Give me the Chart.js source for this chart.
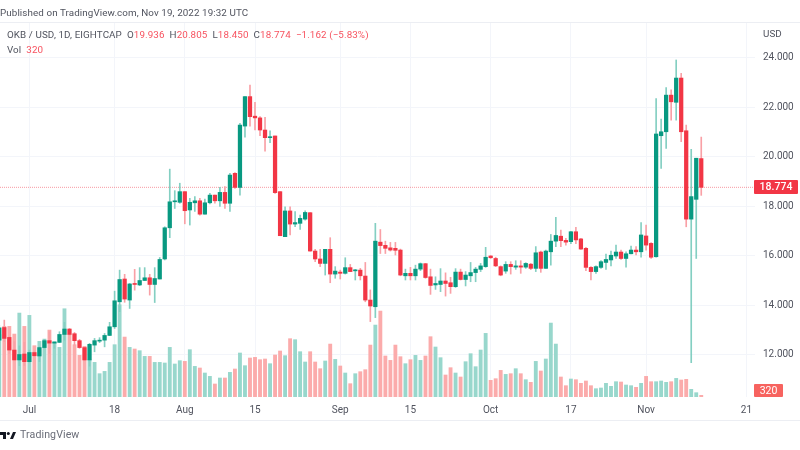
<!DOCTYPE html>
<html>
<head>
<meta charset="utf-8">
<script src="https://cdn.jsdelivr.net/npm/chart.js@4"></script>
<style>
body { margin: 0; background: #fff; width: 800px; height: 450px; overflow: hidden; font-family: Roboto, sans-serif; }
canvas { position: absolute; left: 0; top: 0; filter: blur(0.35px); }
.t { position: absolute; white-space: nowrap; font-size: 9.8px; line-height: 14px; color: #50535e; letter-spacing: 0.1px; }
.r { color: #f7525f; }
.tag { position: absolute; left: 754px; color: #fff; font-size: 10.5px; text-align: center; border-radius: 1px; }
.rule { position: absolute; left: 0; width: 800px; height: 1px; background: #eceef3; }
</style>
</head>
<body>
<canvas id="myChart" width="800" height="450"></canvas>
<div class="rule" style="top:22px"></div>
<div class="rule" style="top:420px"></div>
<div class="t" style="left:0;top:6px">Published on TradingView.com, Nov 19, 2022 19:32 UTC</div>
<div class="t" style="left:7px;top:28px">OKB / USD, 1D, EIGHTCAP &nbsp;O<span class="r">19.936</span> &nbsp;H<span class="r">20.805</span> &nbsp;L<span class="r">18.450</span> &nbsp;C<span class="r">18.774</span> &nbsp;<span class="r">−1.162 (−5.83%)</span></div>
<div class="t" style="left:7px;top:43px">Vol &nbsp;<span class="r">320</span></div>
<div class="t" style="left:763px;top:27px">USD</div>
<div class="tag" id="lastTag" style="width:44px;height:14px;line-height:14px;background:#f23645;font-weight:500">18.774</div>
<div class="tag" id="volTag" style="width:29px;height:13px;line-height:13px;background:#f7635f">320</div>
<svg style="position:absolute;left:0;top:431px" width="17" height="9" viewBox="0 0 17 9">
  <path d="M0 1h6v7H3V4H0z M10 8l3-7h3l-3 7z" fill="#131722"/><circle cx="8.3" cy="2.5" r="1.5" fill="#131722"/>
</svg>
<div class="t" style="left:20px;top:428px;font-size:10.6px;color:#6a6d78">TradingView</div>
<script>
// OKB / USD daily, first entry is the bar cut off by the left edge
const opens = [12.6,13.11,12.71,12.2,11.8,12.04,11.73,12.1,11.96,12.3,12.58,12.48,12.51,12.83,13.05,12.86,12.58,12.3,11.8,12.4,12.56,12.6,12.79,13.14,14.15,15.07,14.22,14.88,14.83,15.01,15.12,14.85,15.07,15.88,17.14,18.19,18.17,18.6,17.86,18.15,18.23,17.69,18.15,18.46,18.23,18.57,18.13,19.34,18.77,21.25,22.44,21.65,21.58,21.09,20.78,20.85,18.6,16.78,17.82,17.29,17.32,17.49,17.75,16.2,15.88,15.7,16.27,15.27,15.35,15.3,15.53,15.4,15.43,15.19,14.22,13.95,16.56,16.43,16.33,16.31,16.24,15.2,15.3,15.2,15.47,15.69,15.16,14.83,14.85,14.99,14.92,14.76,15.35,15.05,15.2,15.33,15.46,15.57,16.0,15.9,15.57,15.39,15.66,15.55,15.6,15.55,15.67,15.5,16.16,15.5,16.17,16.6,16.8,16.63,16.58,16.98,16.69,16.31,15.54,15.37,15.54,15.74,15.84,16.0,16.16,15.9,16.09,16.24,16.17,16.81,16.51,15.97,20.86,21.02,22.5,22.21,23.19,21.06,17.49,18.29,19.936];
const highs = [13.2,13.41,12.74,12.54,12.37,12.51,12.2,12.13,12.33,12.63,12.94,12.52,12.94,13.32,13.07,12.91,12.63,12.3,12.47,12.67,12.7,12.87,13.32,14.58,15.43,15.26,14.89,15.46,15.53,15.53,15.26,15.53,15.94,17.18,19.51,18.64,18.94,18.6,18.33,18.4,18.33,18.3,18.53,18.46,18.77,18.8,19.34,19.37,21.36,22.44,22.91,22.21,21.63,21.6,21.06,20.85,18.6,17.99,17.99,17.79,17.65,17.82,17.75,16.27,16.27,16.27,16.74,15.57,15.43,15.93,15.66,15.46,15.5,15.74,14.63,17.32,17.07,16.6,16.55,16.55,16.28,15.47,15.54,15.63,15.72,15.7,15.47,15.16,15.49,15.32,15.14,15.49,15.47,15.37,15.74,15.54,15.7,16.35,16.02,15.95,15.6,15.77,15.77,15.81,15.81,15.73,15.7,16.38,16.2,16.24,16.87,17.56,17.05,16.71,17.0,17.16,16.71,16.35,15.57,15.6,15.81,16.08,16.2,16.44,16.24,16.17,16.4,16.38,17.35,17.25,16.54,22.36,21.53,22.8,22.71,23.92,23.38,21.29,20.31,19.95,20.805];
const lows = [12.5,12.54,12.06,11.8,11.57,11.57,11.7,11.93,11.73,12.27,12.06,12.27,12.5,12.6,12.8,12.4,12.27,11.77,11.55,12.13,12.5,12.33,12.78,13.07,13.75,14.13,13.88,14.62,14.8,15.01,14.42,14.12,15.07,15.84,16.74,17.92,18.13,17.3,17.25,17.8,17.65,17.69,18.1,18.13,18.0,17.92,17.8,18.73,18.46,20.8,21.25,21.09,20.86,20.24,20.58,18.53,16.82,16.78,16.85,17.18,17.07,17.45,16.2,15.77,15.57,15.23,14.92,15.1,15.07,15.27,15.37,15.03,15.03,14.15,13.35,13.51,16.1,16.1,16.2,16.04,15.2,15.03,15.03,15.03,15.41,15.1,14.45,14.65,14.56,14.38,14.49,14.73,15.03,14.79,14.96,14.96,15.37,15.54,15.9,15.57,15.2,15.3,15.27,15.46,15.3,15.5,15.45,15.37,15.34,15.5,15.63,16.38,16.38,16.44,16.5,16.5,16.27,15.41,15.03,15.3,15.5,15.46,15.6,15.9,15.86,15.55,16.08,16.04,15.95,16.24,15.9,15.95,19.54,20.35,21.49,21.49,20.62,17.18,11.69,15.9,18.45];
const closes = [13.1,12.67,12.2,11.8,12.02,11.73,12.1,11.97,12.3,12.58,12.48,12.51,12.83,13.05,12.83,12.58,12.3,11.8,12.43,12.58,12.6,12.79,13.14,14.19,15.05,14.26,14.87,14.85,15.01,15.12,14.85,15.09,15.86,17.14,18.19,18.2,18.6,17.83,18.17,18.23,17.69,18.15,18.46,18.23,18.57,18.13,19.27,18.77,21.29,22.44,21.63,21.58,21.09,20.78,20.82,18.56,16.82,17.82,17.29,17.35,17.52,17.76,16.2,15.88,15.7,16.27,15.27,15.39,15.3,15.53,15.37,15.43,15.2,14.22,13.98,16.6,16.42,16.31,16.24,16.23,15.23,15.3,15.2,15.47,15.69,15.13,14.81,14.89,14.99,14.89,14.76,15.35,15.05,15.23,15.33,15.47,15.6,15.95,15.93,15.6,15.23,15.66,15.57,15.6,15.55,15.7,15.5,16.13,15.5,16.2,16.6,16.83,16.62,16.56,16.98,16.65,16.28,15.54,15.37,15.57,15.77,15.86,16.03,16.16,15.9,16.09,16.24,16.17,16.85,16.44,15.95,20.93,21.02,22.5,22.23,23.19,21.02,17.49,18.4,19.95,18.774];
const volumes = [11840,13420,13420,11960,15950,13420,15510,9750,10570,11010,12720,10570,9430,16770,11840,9940,7910,9620,7090,6580,4430,4870,6580,9940,17530,11390,9430,9120,8800,7720,7720,6580,6580,6460,9430,6270,6900,6770,8990,5820,5510,4560,3920,2470,3610,3610,4680,5320,8360,5950,7410,7530,7090,7220,6330,7980,8740,7850,11080,10890,8610,6650,8610,6650,5380,6840,10060,7150,5890,4560,2530,4430,4810,5190,9870,13670,16330,7790,6960,9870,7660,6330,7090,7910,6960,7790,11460,9500,7470,4180,5570,4560,3800,6710,8230,5760,8930,12090,3170,3480,5060,4300,4430,5380,4430,3290,2790,6770,4940,7220,14050,10060,3800,2150,3420,3290,2600,3040,2150,1580,1710,2600,2030,2910,2850,2280,2150,1840,2600,3920,2910,2910,3040,2790,2910,3540,3230,3360,1460,820,320];
const priceTicks = [12, 14, 16, 18, 20, 22, 24];
const timeTickBars = [5, 22, 36, 50, 67, 81, 97, 113, 128, 148];
const timeTickLabels = ['Jul', '18', 'Aug', '15', 'Sep', '15', 'Oct', '17', 'Nov', '21'];
const lastPrice = 18.774;

const up = i => closes[i] >= opens[i];
const pick = (a, b) => opens.map((_, i) => up(i) ? a : b);
const bars = (lo, hi) => opens.map((_, i) => ({ x: i - 1, y: [lo[i], hi[i]] }));

const xMin = -0.858, xMax = 149.72;
const axisFont = { family: 'Roboto', size: 10 };

const chart = new Chart(document.getElementById('myChart'), {
    type: 'bar',
    data: {
        datasets: [
            {
                // volume, on its own hidden axis
                data: volumes.map((v, i) => ({ x: i - 1, y: v })),
                yAxisID: 'yVol',
                backgroundColor: pick('#98d7cc', '#fbabab'),
                barThickness: 3.2,
                order: 4
            },
            {
                // last price line
                type: 'line',
                data: [{ x: xMin, y: lastPrice }, { x: xMax, y: lastPrice }],
                borderColor: 'rgba(242,54,69,0.5)',
                borderWidth: 1,
                borderDash: [1, 1],
                pointRadius: 0,
                order: 3
            },
            {
                // wicks
                data: bars(lows, highs),
                backgroundColor: pick('#84cfc2', '#f9a0a6'),
                barThickness: 1,
                order: 2
            },
            {
                // bodies
                data: bars(opens, closes),
                backgroundColor: pick('#089981', '#f23645'),
                barThickness: 3.6,
                order: 1
            }
        ]
    },
    options: {
        responsive: false,
        animation: false,
        devicePixelRatio: 1,
        layout: { padding: { top: 22, bottom: 30, left: 0, right: 0 } },
        plugins: { legend: { display: false }, tooltip: { enabled: false } },
        datasets: { bar: { grouped: false, borderSkipped: false, minBarLength: 1 } },
        scales: {
            x: {
                type: 'linear',
                min: xMin,
                max: xMax,
                offset: false,
                grid: { offset: false, color: '#f3f5fa', drawTicks: false },
                border: { display: false },
                afterBuildTicks: s => { s.ticks = timeTickBars.map(v => ({ value: v })); },
                afterFit: s => { s.height = 23; },
                ticks: {
                    autoSkip: false,
                    maxRotation: 0,
                    padding: 7,
                    color: '#50535e',
                    font: axisFont,
                    callback: v => timeTickLabels[timeTickBars.indexOf(v)]
                }
            },
            y: {
                position: 'right',
                min: 10.303,
                max: 25.4545,
                grid: { color: '#f3f5fa', drawTicks: false },
                border: { display: false },
                afterBuildTicks: s => { s.ticks = priceTicks.map(v => ({ value: v })); },
                afterFit: s => { s.width = 45; },
                ticks: {
                    padding: 8,
                    color: '#50535e',
                    font: axisFont,
                    callback: v => v.toFixed(3)
                }
            },
            yVol: { display: false, min: 0, max: 71250 }
        }
    }
});

document.getElementById('lastTag').style.top = (chart.scales.y.getPixelForValue(lastPrice) - 7) + 'px';
document.getElementById('volTag').style.top = (chart.scales.yVol.getPixelForValue(0) - 13) + 'px';
</script>
</body>
</html>
